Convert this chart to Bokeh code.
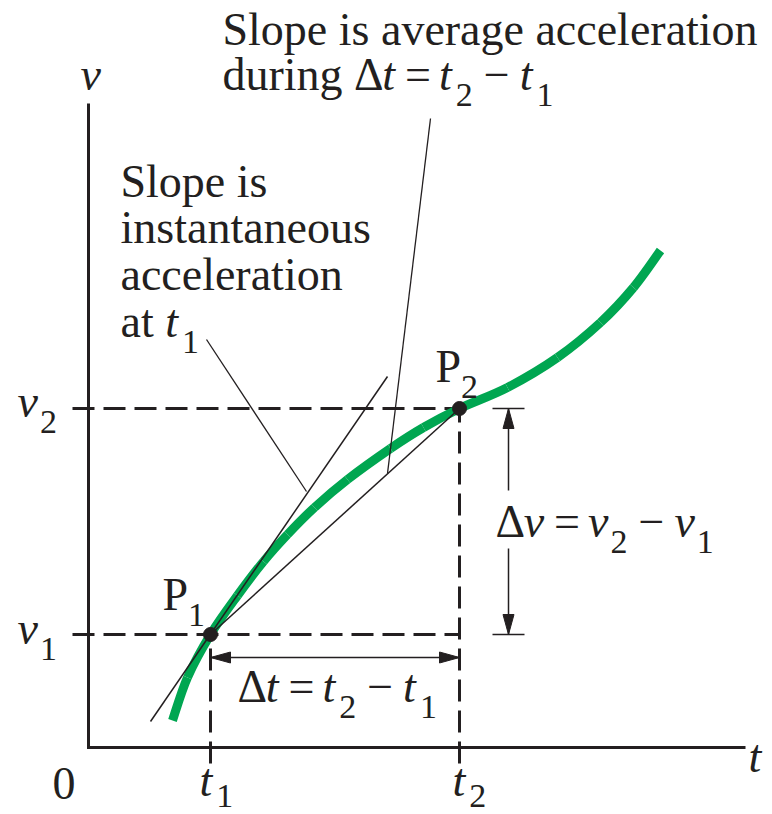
from bokeh.plotting import figure
from bokeh.models import Range1d, ColumnDataSource
from bokeh.embed import file_html
from bokeh.resources import INLINE
from bokeh.core.properties import value

# ---------------- data (1 unit ~ 1 px) ----------------
curve_t = [84, 99, 122, 149, 175, 199, 226, 259, 302, 335, 371, 419, 469, 512, 545, 572]
curve_v = [27, 70, 113, 152, 186, 213, 240, 268, 299, 320, 339, 360, 390, 425, 460, 497]
t1, t2 = 122, 371
v1, v2 = 113, 339
tangent_t = [62, 299]
tangent_v = [26, 371]
inst_leader_t = [118, 218]
inst_leader_v = [408, 256]
avg_leader_t = [342, 299]
avg_leader_v = [629, 274]
axis_t_max = 657
axis_v_max = 644
guide_start = -16

# ---------------- figure ----------------
p = figure(width=772, height=814, x_range=Range1d(-88, 684), y_range=Range1d(-67, 747),
           output_backend="svg", toolbar_location=None, min_border=0,
           x_axis_type=None, y_axis_type=None)
p.outline_line_color = None
p.background_fill_color = "white"
p.border_fill_color = "white"

INK = "#231f20"
DASH = "22 9"

# dashed guides
p.line([guide_start, t2], [v2, v2], line_color=INK, line_width=3, line_dash=DASH)
p.line([guide_start, t2], [v1, v1], line_color=INK, line_width=3, line_dash=DASH)
p.line([t1, t1], [guide_start, v1], line_color=INK, line_width=3, line_dash=DASH)
p.line([t2, t2], [guide_start, v2], line_color=INK, line_width=3, line_dash=DASH)

# axes
p.line([0, 0, axis_t_max], [axis_v_max, 0, 0], line_color=INK, line_width=3, line_join="miter")

# curve: smooth (Catmull-Rom style) Bezier segments through the read points
n = len(curve_t)
seg = dict(x0=[], y0=[], x1=[], y1=[], cx0=[], cy0=[], cx1=[], cy1=[])
for i in range(n - 1):
    a = max(i - 1, 0)
    b = min(i + 2, n - 1)
    seg['x0'].append(curve_t[i]); seg['y0'].append(curve_v[i])
    seg['x1'].append(curve_t[i + 1]); seg['y1'].append(curve_v[i + 1])
    seg['cx0'].append(curve_t[i] + (curve_t[i + 1] - curve_t[a]) / 6)
    seg['cy0'].append(curve_v[i] + (curve_v[i + 1] - curve_v[a]) / 6)
    seg['cx1'].append(curve_t[i + 1] - (curve_t[b] - curve_t[i]) / 6)
    seg['cy1'].append(curve_v[i + 1] - (curve_v[b] - curve_v[i]) / 6)
p.bezier(x0='x0', y0='y0', x1='x1', y1='y1', cx0='cx0', cy0='cy0', cx1='cx1', cy1='cy1',
         source=ColumnDataSource(seg), line_color="#00a651", line_width=9, line_cap="butt")

# tangent, chord, leaders
p.line(tangent_t, tangent_v, line_color=INK, line_width=1.5)
p.line([t1, t2], [v1, v2], line_color=INK, line_width=1.5)
p.line(inst_leader_t, inst_leader_v, line_color=INK, line_width=1.3)
p.line(avg_leader_t, avg_leader_v, line_color=INK, line_width=1.3)

# dimension arrows
HL, HW = 20, 11


def head(tx, ty, dx, dy):
    bx, by = tx - dx * HL, ty - dy * HL
    px, py = -dy, dx
    return [tx, bx + px * HW / 2, bx - px * HW / 2], [ty, by + py * HW / 2, by - py * HW / 2]


dv_t = 420
dv_gap = (199, 257)
bar_half = 16
dt_v = 90
p.line([dv_t, dv_t], [v2, dv_gap[1]], line_color=INK, line_width=1.5)
p.line([dv_t, dv_t], [dv_gap[0], v1], line_color=INK, line_width=1.5)
p.line([dv_t - bar_half, dv_t + bar_half], [v2, v2], line_color=INK, line_width=1.5)
p.line([dv_t - bar_half, dv_t + bar_half], [v1, v1], line_color=INK, line_width=1.5)
p.line([t1, t2], [dt_v, dt_v], line_color=INK, line_width=1.5)

heads = [head(dv_t, v2, 0, 1), head(dv_t, v1, 0, -1), head(t1, dt_v, -1, 0), head(t2, dt_v, 1, 0)]
p.patches([h[0] for h in heads], [h[1] for h in heads], fill_color=INK, line_color=INK, line_width=1)

# points
p.scatter([t1, t2], [v1, v2], size=14, color=INK)

# ---------------- text ----------------
FS = 46
SUB_FS = 34
SUB_DROP = 17
BASE_FIX = 0.31  # raise text so its alphabetic baseline sits where intended
W_R = {' ': 0.25, 'a': 0.444, 'c': 0.444, 'd': 0.5, 'e': 0.444, 'g': 0.5, 'i': 0.278, 'l': 0.278,
       'n': 0.5, 'o': 0.5, 'p': 0.5, 'r': 0.333, 's': 0.389, 't': 0.278, 'u': 0.5, 'v': 0.5,
       'S': 0.556, 'P': 0.556, '0': 0.5, '1': 0.5, '2': 0.5, '=': 0.564, '\u2212': 0.564, '\u0394': 0.612}
W_I = {'t': 0.278, 'v': 0.444}

cols = dict(x=[], y=[], text=[], size=[], style=[], yoff=[])


def layout(x, y, parts, sub_drop=SUB_DROP):
    cx = x
    for s, kind in parts:
        if kind == 'g':
            cx += s
            continue
        if kind == 's':
            fs, yy, style, tab = SUB_FS, y - sub_drop, 'normal', W_R
        elif kind == 'i':
            fs, yy, style, tab = FS, y, 'italic', W_I
        else:
            fs, yy, style, tab = FS, y, 'normal', W_R
        cols['x'].append(cx)
        cols['y'].append(yy)
        cols['text'].append(s)
        cols['size'].append(f"{fs}px")
        cols['style'].append(style)
        cols['yoff'].append(-BASE_FIX * fs)
        cx += sum(tab.get(c, 0.5) for c in s) * fs


MINUS = '\u2212'
DELTA = '\u0394'


def expr(var, sub_gap):
    return [(DELTA, 'r'), (var, 'i'), (10, 'g'), ("=", 'r'), (8, 'g'),
            (var, 'i'), (sub_gap, 'g'), ("2", 's'), (11, 'g'), (MINUS, 'r'), (10, 'g'),
            (var, 'i'), (sub_gap, 'g'), ("1", 's')]


layout(134, 704, [("Slope is average acceleration", 'r')])
layout(134, 659, [("during ", 'r')] + expr("t", 4))
layout(32, 552, [("Slope is", 'r')])
layout(32, 506, [("instantaneous", 'r')])
layout(32, 459, [("acceleration", 'r')])
layout(32, 412, [("at ", 'r'), ("t", 'i'), (4, 'g'), ("1", 's')])

layout(-8, 659, [("v", 'i')])
layout(660, -23, [("t", 'i')])
layout(-36, -50, [("0", 'r')])
layout(111, -47, [("t", 'i'), (4, 'g'), ("1", 's')], sub_drop=12)
layout(364, -47, [("t", 'i'), (4, 'g'), ("2", 's')], sub_drop=12)
layout(-71, 332, [("v", 'i'), (2, 'g'), ("2", 's')])
layout(-71, 105, [("v", 'i'), (2, 'g'), ("1", 's')])
layout(74, 139, [("P", 'r'), ("1", 's')])
layout(347, 367, [("P", 'r'), ("2", 's')])
layout(407, 212, expr("v", 2))
layout(149, 47, expr("t", 4))

src = ColumnDataSource(cols)
p.text(x='x', y='y', text='text', source=src, text_font=value("Liberation Serif"),
       text_font_size='size', text_font_style='style', text_color=INK, y_offset='yoff',
       text_baseline="alphabetic", text_align="left")

open("out.html", "w").write(file_html(p, INLINE))
